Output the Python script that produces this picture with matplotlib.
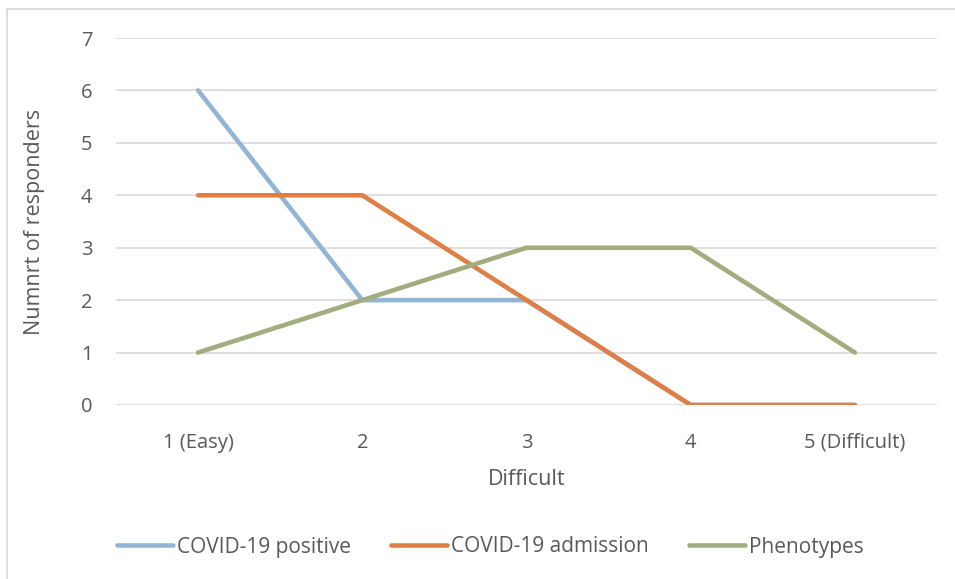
import matplotlib
matplotlib.use("Agg")
import matplotlib.pyplot as plt
from matplotlib.lines import Line2D

categories = ["1 (Easy)", "2", "3", "4", "5 (Difficult)"]
covid_positive = [6, 2, 2, 0, 0]
covid_admission = [4, 4, 2, 0, 0]
phenotypes = [1, 2, 3, 3, 1]
y_ticks = [0, 1, 2, 3, 4, 5, 6, 7]

plt.rcParams['font.family'] = ['Open Sans', 'DejaVu Sans']

W, H = 955, 579
fig = plt.figure(figsize=(W / 100, H / 100), dpi=100)

# chart-area border (top and left edges)
fig.add_artist(Line2D([7 / W, 7 / W], [0, 1 - 9 / H], transform=fig.transFigure,
                      color="#d9d9d9", lw=1.2))
fig.add_artist(Line2D([7 / W, 1], [1 - 9 / H, 1 - 9 / H], transform=fig.transFigure,
                      color="#d9d9d9", lw=1.2))

left, right = 116 / W, 937 / W
bottom, top = 1 - 405 / H, 1 - 38 / H
ax = fig.add_axes([left, bottom, right - left, top - bottom])

x = list(range(len(categories)))
colors = ["#93b5d5", "#e07f45", "#a2ad7f"]
labels = ["COVID-19 positive", "COVID-19 admission", "Phenotypes"]
for vals, c, lab in zip([covid_positive, covid_admission, phenotypes], colors, labels):
    ax.plot(x, vals, color=c, lw=3.3, solid_capstyle="round",
            solid_joinstyle="round", label=lab, zorder=3)

ax.set_xlim(-0.5, len(categories) - 0.5)
ax.set_ylim(0, 7)
ax.set_yticks(y_ticks)
ax.set_xticks(x)
ax.set_xticklabels(categories)
ax.yaxis.grid(True, color="#d9d9d9", lw=1.2)
ax.set_axisbelow(True)
for s in ax.spines.values():
    s.set_visible(False)
ax.tick_params(axis="both", length=0, labelsize=14.5, colors="#595959")
ax.tick_params(axis="y", pad=17)
ax.tick_params(axis="x", pad=20)
ax.set_xlabel("Difficult", fontsize=15.5, color="#595959", labelpad=12)
ax.set_ylabel("Numnrt of responders", fontsize=15.5, color="#595959", labelpad=26)

leg = fig.legend(loc="center", bbox_to_anchor=(0.5 + 13 / W, 1 - 547 / H), ncol=3,
                 frameon=False, fontsize=15, handlelength=2.7, handletextpad=0.2,
                 columnspacing=1.9)
for t in leg.get_texts():
    t.set_color("#595959")

fig.savefig("out.png", dpi=100, facecolor="white")
